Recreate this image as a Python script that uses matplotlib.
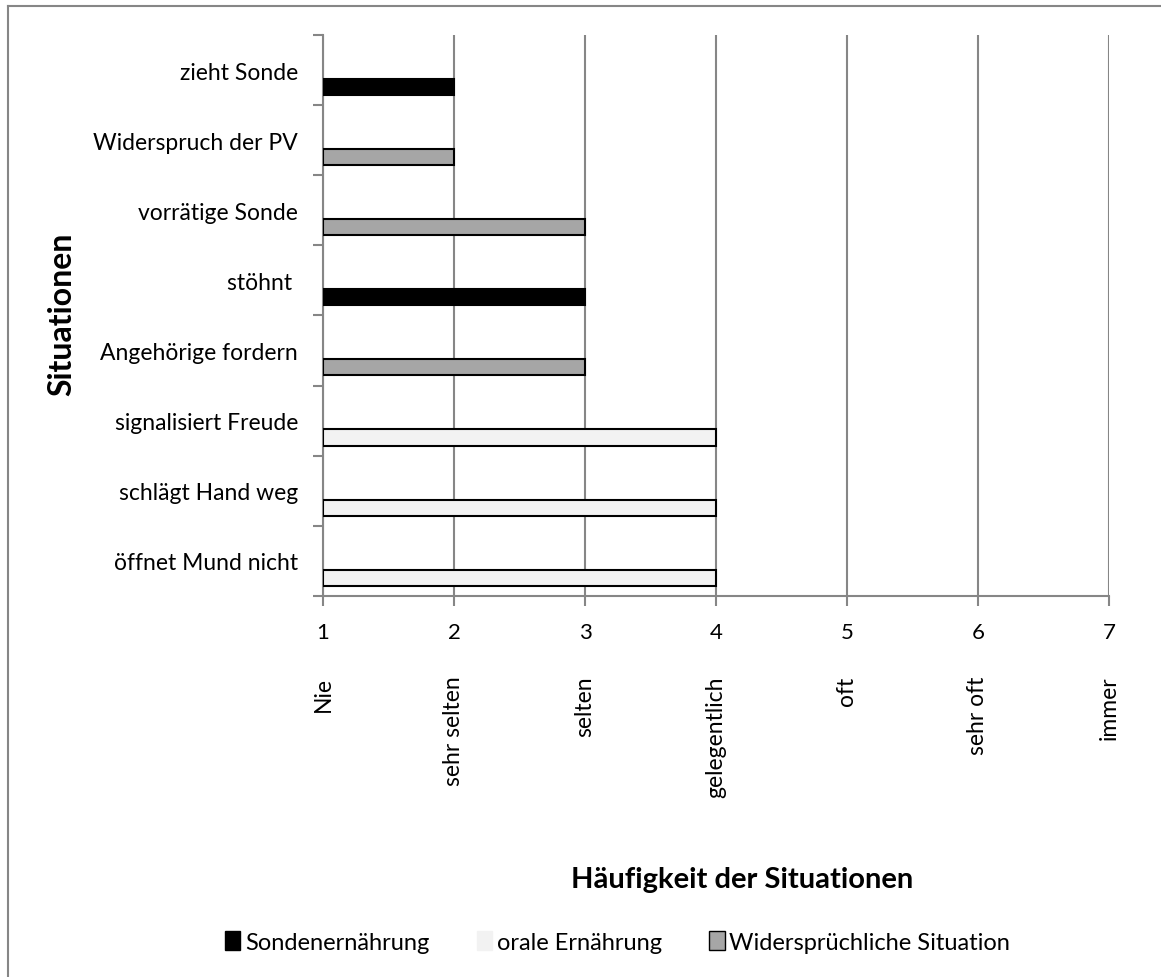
import matplotlib.pyplot as plt
from matplotlib.lines import Line2D
from matplotlib.patches import Patch

plt.rcParams['font.family'] = ['Lato', 'DejaVu Sans']

situationen = ['öffnet Mund nicht', 'schlägt Hand weg', 'signalisiert Freude',
               'Angehörige fordern', 'stöhnt ', 'vorrätige Sonde',
               'Widerspruch der PV', 'zieht Sonde']
haeufigkeit = [4, 4, 4, 3, 3, 3, 2, 2]
gruppe = ['orale Ernährung', 'orale Ernährung', 'orale Ernährung',
          'Widersprüchliche Situation', 'Sondenernährung',
          'Widersprüchliche Situation', 'Widersprüchliche Situation',
          'Sondenernährung']
serien = ['Sondenernährung', 'orale Ernährung', 'Widersprüchliche Situation']
farben = {'Sondenernährung': '#000000', 'orale Ernährung': '#f2f2f2',
          'Widersprüchliche Situation': '#a6a6a6'}
skala = [1, 2, 3, 4, 5, 6, 7]
skala_text = ['Nie', 'sehr selten', 'selten', 'gelegentlich', 'oft',
              'sehr oft', 'immer']

fig = plt.figure(figsize=(11.61, 9.78), dpi=100)
ax = fig.add_axes([0.2782, 0.3896, 0.677, 0.5736])

pos = list(range(len(situationen)))
for i in pos:
    ax.barh(i - 0.24, haeufigkeit[i] - 1, left=1, height=0.23,
            color=farben[gruppe[i]], edgecolor='black', linewidth=1.5, zorder=3)

ax.set_xlim(1, 7)
ax.set_ylim(-0.5, len(situationen) - 0.5)
ax.set_xticks(skala)
ax.set_xticklabels([str(s) for s in skala], fontsize=16)
ax.set_yticks(pos)
ax.set_yticklabels(situationen, fontsize=16.5)
ax.set_yticks([p - 0.5 for p in pos] + [len(pos) - 0.5], minor=True)
ax.tick_params(axis='y', which='major', length=0, pad=18)
ax.tick_params(axis='y', which='minor', length=7, color='#868686', width=1.5)
ax.tick_params(axis='x', length=7, color='#868686', width=1.5, pad=12)
ax.grid(axis='x', color='#868686', linewidth=1.5, zorder=0)
for s in ['top', 'right']:
    ax.spines[s].set_visible(False)
for s in ['left', 'bottom']:
    ax.spines[s].set_color('#868686')
    ax.spines[s].set_linewidth(1.5)

for x, t in zip(skala, skala_text):
    ax.text(x, -0.142, t, transform=ax.get_xaxis_transform(), rotation=90,
            ha='center', va='top', fontsize=16.5)

fig.text(0.639, 0.100, 'Häufigkeit der Situationen', ha='center', va='center',
         fontsize=21, fontweight='bold')
fig.text(0.053, 0.679, 'Situationen', ha='center', va='center', rotation=90,
         fontsize=23, fontweight='bold')

handles = [Patch(facecolor=farben[s], edgecolor='black' if s != 'orale Ernährung' else farben[s],
                 linewidth=1) for s in serien]
fig.legend(handles, serien, loc='center', bbox_to_anchor=(0.532, 0.036), ncol=3,
           frameon=False, fontsize=17, handlelength=0.65, handleheight=0.85,
           handletextpad=0.2, columnspacing=2.0)

fig.add_artist(Line2D([0.0069, 0.0069], [0, 0.993], transform=fig.transFigure,
                      color='#868686', linewidth=1.5))
fig.add_artist(Line2D([0.0069, 1], [0.993, 0.993], transform=fig.transFigure,
                      color='#868686', linewidth=1.5))

fig.savefig('out.png', dpi=100)
